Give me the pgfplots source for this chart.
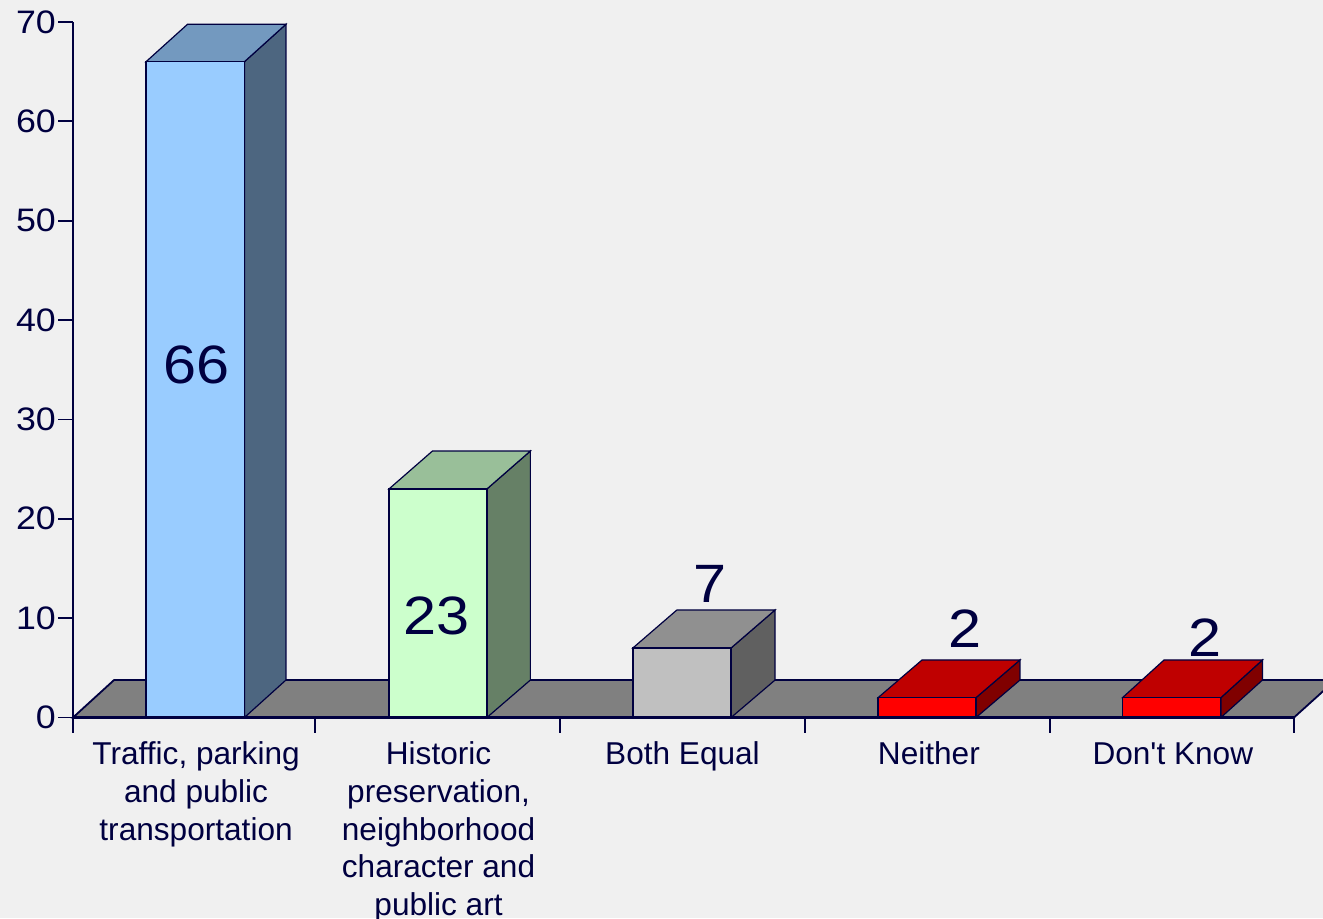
\documentclass[border=0pt]{standalone}
\usepackage{fontspec}
\setmainfont{Liberation Sans}
\newfontfamily\widefont[FakeStretch=1.1]{Liberation Sans}
\newfontfamily\plainfont{Liberation Sans}
\usepackage{pgfplots}
\pgfplotsset{compat=1.18}
\definecolor{ink}{HTML}{000040}
\definecolor{bg}{HTML}{F0F0F0}
\definecolor{flr}{HTML}{808080}
\definecolor{bluef}{HTML}{99CCFF}
\definecolor{bluet}{HTML}{7399BF}
\definecolor{blues}{HTML}{4D6680}
\definecolor{greenf}{HTML}{CCFFCC}
\definecolor{greent}{HTML}{99BF99}
\definecolor{greens}{HTML}{668066}
\definecolor{grayf}{HTML}{C0C0C0}
\definecolor{grayt}{HTML}{909090}
\definecolor{grays}{HTML}{606060}
\definecolor{redf}{HTML}{FF0000}
\definecolor{redt}{HTML}{BF0000}
\definecolor{reds}{HTML}{800000}
\newcommand{\firstline}{\rule{0pt}{23bp}}
\begin{document}
\begin{tikzpicture}[x=1bp,y=1bp]
\useasboundingbox (0,0) rectangle (1323,918);
\fill[bg] (0,0) rectangle (1323,918);
\clip (0,0) rectangle (1323,918);
\begin{axis}[
  at={(73bp,200.5bp)}, anchor=origin,
  scale only axis, width=1221bp, height=695.5bp,
  xmin=0, xmax=5, ymin=0, ymax=70,
  clip=false, axis on top,
  axis lines=left,
  axis line style={-, draw=ink, line width=2.1bp},
  separate axis lines,
  every tick/.style={draw=ink, line width=1.8bp},
  tick align=outside,
  major tick length=15bp,
  ytick={0,10,20,30,40,50,60,70},
  xtick={0,0.991,1.994,2.998,4.001,5},
  xticklabels={},
  extra x ticks={0.504,1.497,2.496,3.505,4.504},
  extra x tick labels={{\firstline Traffic, parking\\and public\\transportation},{\firstline Historic\\preservation,\\neighborhood\\character and\\public art},{\firstline Both Equal},{\firstline Neither},{\firstline\plainfont Don't Know}},
  extra x tick style={major tick length=0pt, tick style={draw=none},
    xticklabel style={anchor=north, align=center, inner sep=0pt, yshift=-24bp, text=ink,
      font=\fontsize{31.6bp}{37.7bp}\selectfont}},
  yticklabel style={text=ink, font=\widefont\fontsize{32.5bp}{38bp}\selectfont, inner sep=2bp},
  /pgf/number format/assume math mode=true,
]
% floor
\addplot[fill=flr, draw=ink, line width=1.8bp] coordinates {(0,0) (0.168,3.77) (5.17,3.77) (5,0)} -- cycle;
% bar 1
\addplot[fill=blues, draw=ink, line width=1.2bp] coordinates {(0.702,0) (0.872,3.77) (0.872,69.77) (0.702,66)} -- cycle;
\addplot[fill=bluet, draw=ink, line width=1.2bp] coordinates {(0.299,66) (0.469,69.77) (0.872,69.77) (0.702,66)} -- cycle;
\addplot[ybar, bar shift=0pt, bar width=98.5bp, fill=bluef, draw=ink, line width=1.2bp] coordinates {(0.5005,66)};
% bar 2
\addplot[fill=greens, draw=ink, line width=1.2bp] coordinates {(1.695,0) (1.873,3.77) (1.873,26.82) (1.695,23)} -- cycle;
\addplot[fill=greent, draw=ink, line width=1.2bp] coordinates {(1.294,23) (1.472,26.82) (1.873,26.82) (1.695,23)} -- cycle;
\addplot[ybar, bar shift=0pt, bar width=98bp, fill=greenf, draw=ink, line width=1.2bp] coordinates {(1.4945,23)};
% bar 3
\addplot[fill=grays, draw=ink, line width=1.2bp] coordinates {(2.695,0) (2.875,3.77) (2.875,10.82) (2.695,7)} -- cycle;
\addplot[fill=grayt, draw=ink, line width=1.2bp] coordinates {(2.293,7) (2.473,10.82) (2.875,10.82) (2.695,7)} -- cycle;
\addplot[ybar, bar shift=0pt, bar width=98bp, fill=grayf, draw=ink, line width=1.2bp] coordinates {(2.494,7)};
% bar 4
\addplot[fill=reds, draw=ink, line width=1.2bp] coordinates {(3.698,0) (3.878,3.77) (3.878,5.79) (3.698,2)} -- cycle;
\addplot[fill=redt, draw=ink, line width=1.2bp] coordinates {(3.297,2) (3.477,5.79) (3.878,5.79) (3.698,2)} -- cycle;
\addplot[ybar, bar shift=0pt, bar width=98bp, fill=redf, draw=ink, line width=1.2bp] coordinates {(3.4975,2)};
% bar 5
\addplot[fill=reds, draw=ink, line width=1.2bp] coordinates {(4.701,0) (4.871,3.77) (4.871,5.79) (4.701,2)} -- cycle;
\addplot[fill=redt, draw=ink, line width=1.2bp] coordinates {(4.298,2) (4.468,5.79) (4.871,5.79) (4.701,2)} -- cycle;
\addplot[ybar, bar shift=0pt, bar width=98.3bp, fill=redf, draw=ink, line width=1.2bp] coordinates {(4.4995,2)};
% value labels
\node[text=ink, font=\widefont\fontsize{54bp}{60bp}\selectfont] at (axis cs:0.505,35.5) {66};
\node[text=ink, font=\widefont\fontsize{54bp}{60bp}\selectfont] at (axis cs:1.488,10.2) {23};
\node[text=ink, font=\widefont\fontsize{54bp}{60bp}\selectfont] at (axis cs:2.608,13.4) {7};
\node[text=ink, font=\widefont\fontsize{54bp}{60bp}\selectfont] at (axis cs:3.653,8.9) {2};
\node[text=ink, font=\widefont\fontsize{54bp}{60bp}\selectfont] at (axis cs:4.636,8.0) {2};
\end{axis}
\end{tikzpicture}
\end{document}
